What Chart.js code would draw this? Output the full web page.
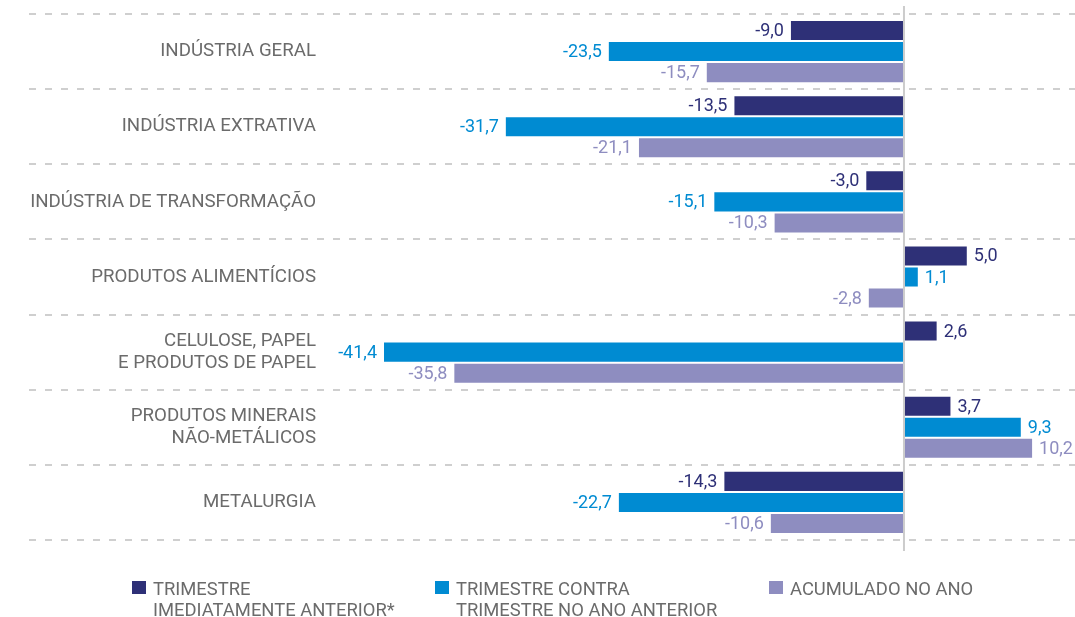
<!DOCTYPE html>
<html>
<head>
<meta charset="utf-8">
<script src="https://cdn.jsdelivr.net/npm/chart.js@4/dist/chart.umd.min.js"></script>
<style>
  html, body { margin: 0; padding: 0; background: #ffffff; }
  #wrap { position: relative; width: 1075px; height: 617px; overflow: hidden; }
  #c { position: absolute; left: 0; top: 0; }
  .lg { position: absolute; font-family: Roboto, sans-serif; font-size: 18.4px; line-height: 21px; color: #6b6b6b; white-space: nowrap; }
  .lg .box { position: absolute; left: -21px; top: 3px; width: 14px; height: 13px; }
</style>
</head>
<body>
<div id="wrap">
  <canvas id="c" width="1075" height="617"></canvas>
  <div id="legend"></div>
</div>
<script>
const categories = [
  ['INDÚSTRIA GERAL'],
  ['INDÚSTRIA EXTRATIVA'],
  ['INDÚSTRIA DE TRANSFORMAÇÃO'],
  ['PRODUTOS ALIMENTÍCIOS'],
  ['CELULOSE, PAPEL', 'E PRODUTOS DE PAPEL'],
  ['PRODUTOS MINERAIS', 'NÃO-METÁLICOS'],
  ['METALURGIA']
];
const seriesNames = [
  ['TRIMESTRE', 'IMEDIATAMENTE ANTERIOR*'],
  ['TRIMESTRE CONTRA', 'TRIMESTRE NO ANO ANTERIOR'],
  ['ACUMULADO NO ANO']
];
const trimestreAnterior = [-9.0, -13.5, -3.0, 5.0, 2.6, 3.7, -14.3];
const trimestreAnoAnterior = [-23.5, -31.7, -15.1, 1.1, -41.4, 9.3, -22.7];
const acumuladoAno = [-15.7, -21.1, -10.3, -2.8, -35.8, 10.2, -10.6];

const colors = ['#2e3077', '#008bd2', '#8e8dc0'];
const labelColors = ['#2e3077', '#008bd2', '#8e8dc0'];
const seriesValues = [trimestreAnterior, trimestreAnoAnterior, acumuladoAno];

const fmt = v => v.toFixed(1).replace('.', ',');

const extrasPlugin = {
  id: 'extras',
  beforeDatasetsDraw(chart) {
    const ctx = chart.ctx;
    const y = chart.scales.y;
    const area = chart.chartArea;
    ctx.save();
    ctx.strokeStyle = '#cfcfcf';
    ctx.lineWidth = 2;
    ctx.setLineDash([7, 9]);
    ctx.lineDashOffset = -2;
    const n = categories.length;
    for (let i = 0; i <= n; i++) {
      let py;
      if (i === 0) py = area.top;
      else if (i === n) py = area.bottom;
      else py = (y.getPixelForValue(i - 1) + y.getPixelForValue(i)) / 2;
      py = Math.round(py);
      ctx.beginPath();
      ctx.moveTo(27, py);
      ctx.lineTo(chart.width, py);
      ctx.stroke();
    }
    ctx.restore();
  },
  afterDatasetsDraw(chart) {
    const ctx = chart.ctx;
    const x = chart.scales.x;
    const area = chart.chartArea;
    ctx.save();
    const x0 = x.getPixelForValue(0);
    ctx.strokeStyle = '#cccccc';
    ctx.lineWidth = 2;
    ctx.beginPath();
    ctx.moveTo(x0, area.top - 8);
    ctx.lineTo(x0, area.bottom + 11);
    ctx.stroke();
    ctx.font = '18px Roboto, sans-serif';
    ctx.textBaseline = 'middle';
    chart.data.datasets.forEach((ds, di) => {
      const meta = chart.getDatasetMeta(di);
      ctx.fillStyle = labelColors[di];
      meta.data.forEach((bar, i) => {
        const v = ds.data[i];
        if (v < 0) {
          ctx.textAlign = 'right';
          ctx.fillText(fmt(v), bar.x - 7, bar.y + 1);
        } else {
          ctx.textAlign = 'left';
          ctx.fillText(fmt(v), bar.x + 7, bar.y + 1);
        }
      });
    });
    ctx.restore();
  }
};

new Chart(document.getElementById('c'), {
  type: 'bar',
  data: {
    labels: categories,
    datasets: seriesValues.map((vals, i) => ({
      label: seriesNames[i].join(' '),
      data: vals,
      backgroundColor: colors[i],
      borderWidth: 0,
      categoryPercentage: 0.84,
      barPercentage: 0.905
    }))
  },
  options: {
    indexAxis: 'y',
    responsive: false,
    animation: false,
    layout: { padding: { left: 0, right: 10, top: 14, bottom: 77 } },
    plugins: {
      legend: { display: false },
      tooltip: { enabled: false }
    },
    scales: {
      x: {
        display: false,
        min: -45.7,
        max: 12.82
      },
      y: {
        afterFit(scale) {
          scale.width = 330;
          scale.paddingTop = 0;
          scale.paddingBottom = 0;
        },
        grid: { display: false, drawTicks: false },
        border: { display: false },
        ticks: {
          padding: 14,
          color: '#6b6b6b',
          font: { family: 'Roboto, sans-serif', size: 18.7, lineHeight: 1.18 }
        }
      }
    }
  },
  plugins: [extrasPlugin]
});

const legendPos = [[153, 578], [456, 578], [790, 578]];
const legendEl = document.getElementById('legend');
seriesNames.forEach((name, i) => {
  const d = document.createElement('div');
  d.className = 'lg';
  d.style.left = legendPos[i][0] + 'px';
  d.style.top = legendPos[i][1] + 'px';
  const b = document.createElement('span');
  b.className = 'box';
  b.style.background = colors[i];
  d.appendChild(b);
  name.forEach((line, j) => {
    if (j) d.appendChild(document.createElement('br'));
    d.appendChild(document.createTextNode(line));
  });
  legendEl.appendChild(d);
});
</script>
</body>
</html>
